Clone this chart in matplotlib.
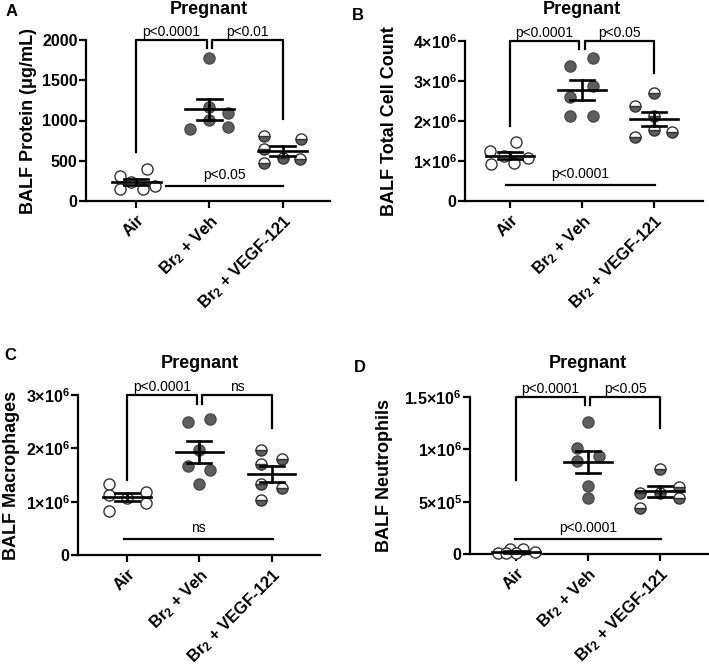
import matplotlib
matplotlib.use('Agg')
import matplotlib.pyplot as plt
import numpy as np

plt.rcParams['font.family'] = ['Liberation Sans', 'DejaVu Sans']
plt.rcParams['mathtext.fontset'] = 'custom'
plt.rcParams['mathtext.rm'] = 'Liberation Sans:bold'
plt.rcParams['mathtext.it'] = 'Liberation Sans:bold'
plt.rcParams['mathtext.bf'] = 'Liberation Sans:bold'

# data (6 animals per group)
groups = ['Air', 'Br$_2$ + Veh', 'Br$_2$ + VEGF-121']

protein_air = [315, 393, 240, 145, 145, 186]
protein_veh = [1772, 1164, 1089, 890, 1006, 915]
protein_vegf = [807, 766, 642, 530, 468, 518]

total_air = [1.26e6, 1.48e6, 1.125e6, 0.925e6, 0.94e6, 1.07e6]
total_veh = [3.375e6, 3.57e6, 2.875e6, 2.61e6, 2.125e6, 2.125e6]
total_vegf = [2.375e6, 2.71e6, 2.125e6, 1.59e6, 1.775e6, 1.73e6]

mac_air = [1.325e6, 1.19e6, 1.125e6, 1.075e6, 0.97e6, 0.825e6]
mac_veh = [2.49e6, 2.55e6, 1.97e6, 1.675e6, 1.59e6, 1.34e6]
mac_vegf = [1.97e6, 1.8e6, 1.7e6, 1.34e6, 1.25e6, 1.03e6]

neu_air = [0.01e6, 0.05e6, 0.05e6, 0.015e6, 0.005e6, 0.005e6]
neu_veh = [1.264e6, 1.016e6, 0.936e6, 0.888e6, 0.653e6, 0.538e6]
neu_vegf = [0.812e6, 0.643e6, 0.58e6, 0.58e6, 0.532e6, 0.436e6]

# p-value labels: (left bracket, right bracket, bottom line)
p_protein = ['p<0.0001', 'p<0.01', 'p<0.05']
p_total = ['p<0.0001', 'p<0.05', 'p<0.0001']
p_mac = ['p<0.0001', 'ns', 'ns']
p_neu = ['p<0.0001', 'p<0.05', 'p<0.0001']

# horizontal scatter of the dots (layout only)
jit_a = [[-0.23, 0.14, -0.07, -0.23, 0.09, 0.26],
         [0, 0, 0.25, -0.26, 0, 0.26],
         [-0.26, 0.25, -0.26, 0, -0.26, 0.24]]
jit_b = [[-0.28, 0.09, -0.09, -0.27, 0.05, 0.25],
         [-0.17, 0.15, 0.15, -0.17, -0.17, 0.15],
         [-0.26, 0, 0, -0.26, 0, 0.25]]
jit_c = [[-0.25, 0.26, -0.25, 0, 0.26, -0.25],
         [-0.16, 0.15, 0, -0.16, 0.15, 0],
         [-0.15, 0.15, -0.15, -0.15, 0.15, -0.15]]
jit_d = [[-0.25, -0.08, 0.1, 0.27, 0.0, -0.14],
         [0, -0.15, 0.15, -0.15, 0, 0],
         [0, 0.26, -0.27, 0, 0.26, -0.27]]

W, H = 709, 667
fig = plt.figure(figsize=(W / 100, H / 100), dpi=100)


def rect(l, r, t, b):
    return [l / W, 1 - b / H, (r - l) / W, (b - t) / H]


gray = '#5e5e5e'
styles = [dict(mfc='white', mec='#333333'),
          dict(mfc=gray, mec='#4a4a4a'),
          dict(mfc=gray, mfcalt='white', fillstyle='bottom', mec='#333333')]


def panel(box, xlim, series, jit, yticks, yticklabels, ylab, ylab_x, letter, letter_xy,
          title_xy, brk, bottom, plabels):
    ax = fig.add_axes(rect(*box))
    top = yticks[-1]
    ax.set_xlim(*xlim)
    ax.set_ylim(0, top)
    for i, vals in enumerate(series):
        vals = np.array(vals)
        xs = i + np.array(jit[i])
        ax.plot(xs, vals, 'o', ms=8, mew=1.0, ls='none', clip_on=False, zorder=3, **styles[i])
        m = vals.mean()
        se = vals.std(ddof=1) / np.sqrt(len(vals))
        ax.plot([i - 0.33, i + 0.33], [m, m], color='k', lw=1.9, zorder=4, clip_on=False)
        ax.plot([i - 0.165, i + 0.165], [m + se, m + se], color='k', lw=1.9, zorder=4, clip_on=False)
        ax.plot([i - 0.165, i + 0.165], [m - se, m - se], color='k', lw=1.9, zorder=4, clip_on=False)
        ax.plot([i, i], [m - se, m + se], color='k', lw=1.9, zorder=4, clip_on=False)

    # significance brackets
    b_air, b_veh, b_vegf = brk
    ax.plot([0, 0, 0.965, 0.965], [b_air, top, top, b_veh], color='k', lw=1.6, clip_on=False)
    ax.plot([1.035, 1.035, 2, 2], [b_veh, top, top, b_vegf], color='k', lw=1.6, clip_on=False)
    ax.annotate(plabels[0], (0.48, top), xytext=(0, 1), textcoords='offset points',
                ha='center', va='bottom', fontsize=10, annotation_clip=False)
    ax.annotate(plabels[1], (1.52, top), xytext=(0, 1), textcoords='offset points',
                ha='center', va='bottom', fontsize=10, annotation_clip=False)
    bx0, bx1, by = bottom
    ax.plot([bx0, bx1], [by, by], color='k', lw=1.6, clip_on=False)
    ax.annotate(plabels[2], ((bx0 + bx1) / 2, by), xytext=(0, 3), textcoords='offset points',
                ha='center', va='bottom', fontsize=10)

    for s in ['top', 'right']:
        ax.spines[s].set_visible(False)
    for s in ['left', 'bottom']:
        ax.spines[s].set_linewidth(1.6)
    ax.tick_params(direction='out', length=5, width=1.6, labelsize=11.5, pad=1)
    ax.set_yticks(yticks)
    ax.set_yticklabels(yticklabels, fontweight='bold')
    ax.set_xticks(range(3))
    ax.set_xticklabels(groups, rotation=45, ha='right', rotation_mode='anchor',
                       fontweight='bold', fontsize=12)
    ax.tick_params(axis='x', pad=3)

    cy = 1 - (box[2] + box[3]) / 2 / H
    fig.text(ylab_x / W, cy, ylab, rotation=90, ha='center', va='center',
             fontsize=13, fontweight='bold')
    fig.text(letter_xy[0] / W, 1 - letter_xy[1] / H, letter, ha='center', va='center',
             fontsize=12, fontweight='bold')
    fig.text(title_xy[0] / W, 1 - title_xy[1] / H, 'Pregnant', ha='center', va='center',
             fontsize=13, fontweight='bold')
    return ax


panel((86, 330, 40, 201), (-0.69, 2.65), [protein_air, protein_veh, protein_vegf], jit_a,
      [0, 500, 1000, 1500, 2000], ['0', '500', '1000', '1500', '2000'],
      'BALF Protein (\u03bcg/mL)', 29, 'A', (12, 12), (209, 10),
      (613, 1896, 1014), (0.41, 2.0, 190), p_protein)

panel((465, 703, 41, 201), (-0.625, 2.68), [total_air, total_veh, total_vegf], jit_b,
      [0, 1e6, 2e6, 3e6, 4e6], ['0', '1\u00d710$^6$', '2\u00d710$^6$', '3\u00d710$^6$', '4\u00d710$^6$'],
      'BALF Total Cell Count', 390, 'B', (358, 15), (582, 10),
      (1.875e6, 3.79e6, 3.19e6), (-0.055, 2.01, 0.4e6), p_total)

panel((78, 320, 395, 555), (-0.68, 2.67), [mac_air, mac_veh, mac_vegf], jit_c,
      [0, 1e6, 2e6, 3e6], ['0', '1\u00d710$^6$', '2\u00d710$^6$', '3\u00d710$^6$'],
      'BALF Macrophages', 12, 'C', (10, 355), (200, 363),
      (1.41e6, 2.84e6, 2.39e6), (-0.04, 2.02, 0.3e6), p_mac)

panel((470, 708, 397, 554), (-0.64, 2.67), [neu_air, neu_veh, neu_vegf], jit_d,
      [0, 0.5e6, 1e6, 1.5e6], ['0', '5\u00d710$^5$', '1\u00d710$^6$', '1.5\u00d710$^6$'],
      'BALF Neutrophils', 384, 'D', (360, 368), (588, 363),
      (0.707e6, 1.42e6, 1.2e6), (-0.01, 2.015, 0.143e6), p_neu)

fig.savefig('out.png', dpi=100)
